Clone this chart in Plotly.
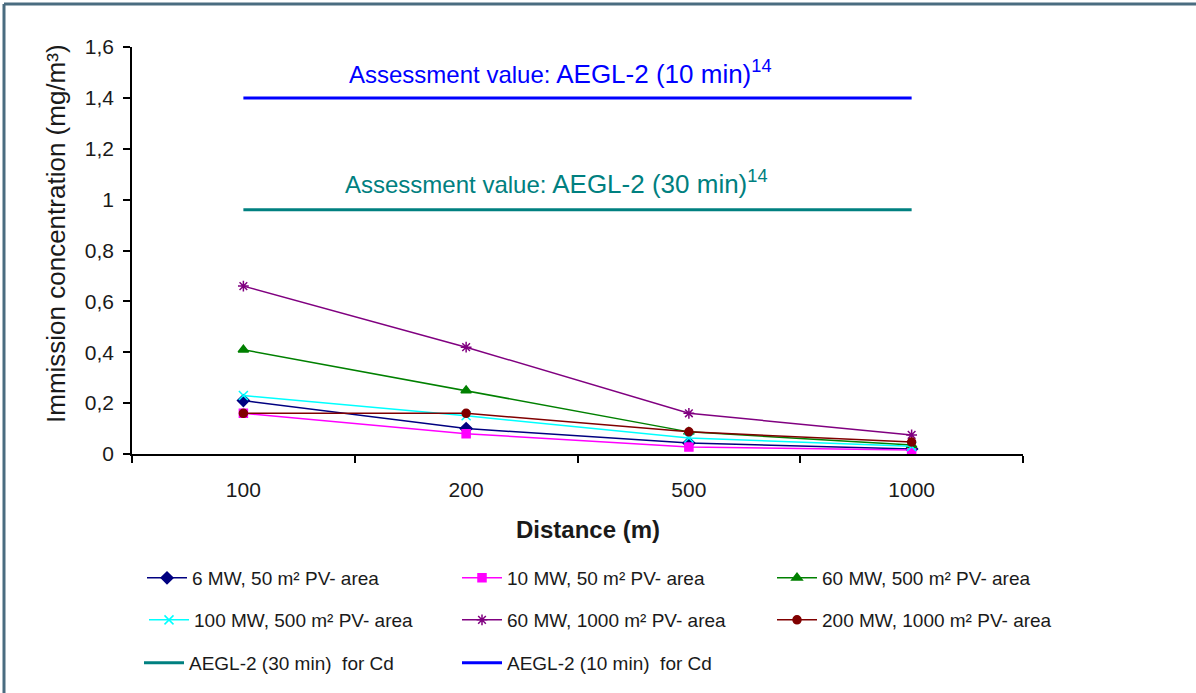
import plotly.graph_objects as go

# Distances (categorical x axis)
distances = ["100", "200", "500", "1000"]

# Immission concentration in mg/m³ per scenario
s_6mw_50 = [0.21, 0.10, 0.043, 0.02]
s_10mw_50 = [0.16, 0.08, 0.028, 0.016]
s_60mw_500 = [0.41, 0.25, 0.087, 0.035]
s_100mw_500 = [0.23, 0.15, 0.063, 0.03]
s_60mw_1000 = [0.66, 0.42, 0.16, 0.075]
s_200mw_1000 = [0.16, 0.16, 0.087, 0.047]

# Assessment values
aegl2_10min = 1.40
aegl2_30min = 0.96

y_ticks = [0, 0.2, 0.4, 0.6, 0.8, 1.0, 1.2, 1.4, 1.6]
y_tick_text = ["0", "0,2", "0,4", "0,6", "0,8", "1", "1,2", "1,4", "1,6"]

FONT = "Liberation Sans, Arial, sans-serif"
TXT = "#1a1a1a"
W, H = 1196, 693

# name, values, colour, marker, size, legend id, legend text start (px), row centre (px)
series = [
    ("6 MW, 50 m² PV- area", s_6mw_50, "#000080", "diamond", 9, "legend", 193, 578),
    ("10 MW, 50 m² PV- area", s_10mw_50, "#FF00FF", "square", 8, "legend2", 508, 578),
    ("60 MW, 500 m² PV- area", s_60mw_500, "#008000", "triangle-up", 9, "legend3", 823, 578),
    ("100 MW, 500 m² PV- area", s_100mw_500, "#00FFFF", "x-thin-open", 9, "legend4", 195, 620),
    ("60 MW, 1000 m² PV- area", s_60mw_1000, "#800080", "asterisk-open", 9, "legend5", 508, 620),
    ("200 MW, 1000 m² PV- area", s_200mw_1000, "#800000", "circle", 8, "legend6", 823, 620),
]
limits = [
    ("AEGL-2 (30 min)  for Cd", aegl2_30min, "#008080", "legend7", 190, 663),
    ("AEGL-2 (10 min)  for Cd", aegl2_10min, "#0000FF", "legend8", 508, 663),
]

fig = go.Figure()
legends = {}


def legend_at(text_x, row_y):
    return dict(
        orientation="h", xref="container", yref="container",
        x=(text_x - 51) / W, y=1 - row_y / H, xanchor="left", yanchor="middle",
        font=dict(family=FONT, size=19, color=TXT),
        bgcolor="rgba(0,0,0,0)", itemwidth=40,
    )


for name, vals, color, sym, size, leg, tx, ty in series:
    fig.add_trace(go.Scatter(
        x=distances, y=vals, name=name, mode="lines+markers",
        line=dict(color=color, width=1.5),
        marker=dict(symbol=sym, size=size, color=color,
                    line=dict(color=color, width=1.5)),
        legend=leg,
    ))
    legends[leg] = legend_at(tx, ty)

for name, val, color, leg, tx, ty in limits:
    fig.add_trace(go.Scatter(
        x=distances, y=[val] * len(distances), name=name,
        mode="lines", line=dict(color=color, width=3), legend=leg,
    ))
    legends[leg] = legend_at(tx, ty)

L, R, T, B = 132, 1023, 47, 454
pw, ph = R - L, B - T


def px(x):
    return (x - L) / pw


def py(y):
    return (B - y) / ph


fig.update_layout(
    width=W, height=H,
    margin=dict(l=L, r=W - R, t=T, b=H - B),
    paper_bgcolor="white", plot_bgcolor="white",
    font=dict(family=FONT, color=TXT),
    showlegend=True,
    **legends,
    xaxis=dict(
        type="category", range=[-0.5, 3.5], tickson="boundaries",
        showline=True, linecolor="black", linewidth=1.5,
        ticks="outside", ticklen=7, tickcolor="black", tickwidth=1.5,
        showgrid=False, zeroline=False,
        tickfont=dict(family=FONT, size=21, color=TXT),
        ticklabelstandoff=16,
    ),
    yaxis=dict(
        range=[0, 1.6], tickvals=y_ticks, ticktext=y_tick_text,
        showline=True, linecolor="black", linewidth=1.5,
        ticks="outside", ticklen=7, tickcolor="black", tickwidth=1.5,
        showgrid=False, zeroline=False,
        tickfont=dict(family=FONT, size=21, color=TXT),
        ticklabelstandoff=5,
    ),
    annotations=[
        dict(text="<span style='font-size:24px'>Assessment value:</span> AEGL-2 (10 min)<sup>14</sup>",
             xref="paper", yref="paper", x=px(560), y=py(72),
             xanchor="center", yanchor="middle",
             showarrow=False, font=dict(family=FONT, size=26, color="#0000FF")),
        dict(text="<span style='font-size:24px'>Assessment value:</span> AEGL-2 (30 min)<sup>14</sup>",
             xref="paper", yref="paper", x=px(556), y=py(182),
             xanchor="center", yanchor="middle",
             showarrow=False, font=dict(family=FONT, size=26, color="#008080")),
        dict(text="Immission concentration (mg/m³)",
             xref="paper", yref="paper", x=px(56), y=py(234),
             xanchor="center", yanchor="middle",
             textangle=-90, showarrow=False,
             font=dict(family=FONT, size=26, color=TXT)),
        dict(text="<b>Distance (m)</b>",
             xref="paper", yref="paper", x=px(588), y=py(529),
             xanchor="center", yanchor="middle",
             showarrow=False, font=dict(family=FONT, size=24, color=TXT)),
    ],
    shapes=[
        # page frame: top and left edges
        dict(type="line", xref="paper", yref="paper",
             x0=px(4), x1=px(1200), y0=py(4), y1=py(4),
             line=dict(color="#4a6c80", width=3)),
        dict(type="line", xref="paper", yref="paper",
             x0=px(4), x1=px(4), y0=py(4), y1=py(700),
             line=dict(color="#4a6c80", width=3)),
    ],
)

fig.write_html("out.html")
